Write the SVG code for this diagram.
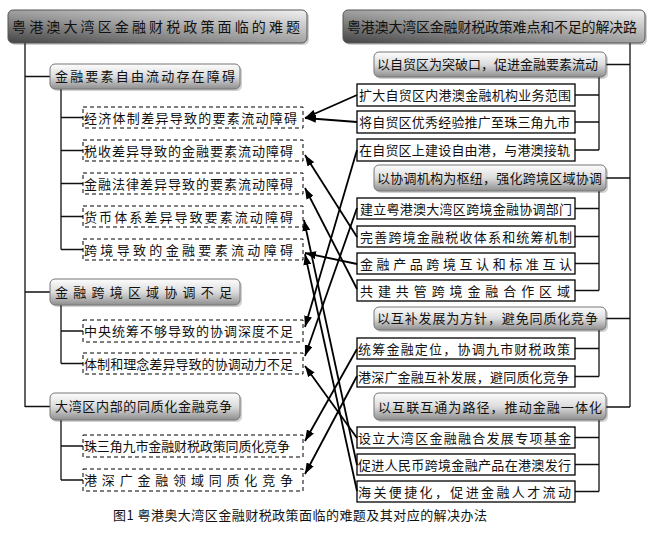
<svg xmlns="http://www.w3.org/2000/svg" width="652" height="534" viewBox="0 0 652 534">
<defs>
<linearGradient id="titleGrad" x1="0" y1="1" x2="1" y2="0">
<stop offset="0" stop-color="#444"/>
<stop offset="0.45" stop-color="#999"/>
<stop offset="1" stop-color="#f2f2f2"/>
</linearGradient>
<linearGradient id="catGrad" x1="0" y1="0" x2="0" y2="1">
<stop offset="0" stop-color="#fdfdfd"/>
<stop offset="0.5" stop-color="#dcdcdc"/>
<stop offset="1" stop-color="#8e8e8e"/>
</linearGradient>
<marker id="arr" markerUnits="userSpaceOnUse" markerWidth="11" markerHeight="8" refX="11" refY="4" orient="auto">
<path d="M0,0 L11,4 L0,8 z" fill="#000"/>
</marker>
</defs>
<style>
text{font-family:"Noto Sans CJK SC","Liberation Sans",sans-serif;fill:#111;}
.tt{font-size:14px;}
.ct{font-size:13px;}
.it{font-size:13px;}
.cap{font-size:13px;}
.title{fill:url(#titleGrad);stroke:#555;stroke-width:1;}
.cat{fill:url(#catGrad);stroke:#777;stroke-width:1;}
.shadow{fill:#000;opacity:0.18;}
.dash{fill:#fff;stroke:#000;stroke-width:1;stroke-dasharray:4,3;}
.solid{fill:#fff;stroke:#000;stroke-width:1.3;}
.tree{fill:none;stroke:#111;stroke-width:1.3;}
.arrow{fill:none;stroke:#000;stroke-width:1.8;marker-end:url(#arr);}
</style>
<rect width="652" height="534" fill="#fff"/>

<g id="tree-lines">
<path class="tree" d="M25,43 V407 M25,76.5 H50 M25,292 H50 M25,406.5 H50"/>
<path class="tree" d="M61,89 V249.5 M61,117.5 H83 M61,150.5 H83 M61,183.5 H83 M61,216.5 H83 M61,249.5 H83"/>
<path class="tree" d="M61,305 V363.5 M61,331 H83 M61,363.5 H83"/>
<path class="tree" d="M61,420 V480 M61,446 H83 M61,480 H83"/>
<path class="tree" d="M630,43 V407 M606,64.5 H630 M606,178 H630 M606,318.5 H630 M606,407 H630"/>
<path class="tree" d="M599,77 V150 M575,95 H599 M575,122 H599 M575,150 H599"/>
<path class="tree" d="M599,191 V290.5 M575,208.5 H599 M575,236.5 H599 M575,263.5 H599 M575,290.5 H599"/>
<path class="tree" d="M599,330 V376.5 M575,348.5 H599 M575,376.5 H599"/>
<path class="tree" d="M599,420 V491.5 M575,437.5 H599 M575,464.5 H599 M575,491.5 H599"/>
</g>

<g id="title-left">
<rect class="shadow" x="10" y="12" width="299" height="33" rx="5"/>
<rect class="title" x="8" y="10" width="299" height="33" rx="5"/>
<text class="tt" x="12" y="31.5" textLength="288" lengthAdjust="spacing">粤港澳大湾区金融财税政策面临的难题</text>
</g>
<g id="title-right">
<rect class="shadow" x="345" y="12" width="302" height="33" rx="5"/>
<rect class="title" x="343" y="10" width="302" height="33" rx="5"/>
<text class="tt" x="347" y="31.5" textLength="290" lengthAdjust="spacing">粤港澳大湾区金融财税政策难点和不足的解决路</text>
</g>

<g id="cat-l1">
<rect class="shadow" x="52" y="66" width="190" height="25" rx="5"/>
<rect class="cat" x="50" y="64" width="190" height="25" rx="5"/>
<text class="ct" x="55" y="81" textLength="180" lengthAdjust="spacing">金融要素自由流动存在障碍</text>
</g>
<g id="cat-l2">
<rect class="shadow" x="52" y="281" width="190" height="26" rx="5"/>
<rect class="cat" x="50" y="279" width="190" height="26" rx="5"/>
<text class="ct" x="55" y="296.5" textLength="177" lengthAdjust="spacing">金融跨境区域协调不足</text>
</g>
<g id="cat-l3">
<rect class="shadow" x="52" y="395" width="190" height="27" rx="5"/>
<rect class="cat" x="50" y="393" width="190" height="27" rx="5"/>
<text class="ct" x="55" y="411" textLength="177" lengthAdjust="spacing">大湾区内部的同质化金融竞争</text>
</g>

<g id="cat-r1">
<rect class="shadow" x="376" y="54" width="232" height="25" rx="5"/>
<rect class="cat" x="374" y="52" width="232" height="25" rx="5"/>
<text class="ct" x="377" y="69" textLength="221" lengthAdjust="spacing">以自贸区为突破口，促进金融要素流动</text>
</g>
<g id="cat-r2">
<rect class="shadow" x="376" y="167" width="232" height="26" rx="5"/>
<rect class="cat" x="374" y="165" width="232" height="26" rx="5"/>
<text class="ct" x="377" y="182.5" textLength="225" lengthAdjust="spacing">以协调机构为枢纽，强化跨境区域协调</text>
</g>
<g id="cat-r3">
<rect class="shadow" x="376" y="309" width="232" height="23" rx="5"/>
<rect class="cat" x="374" y="307" width="232" height="23" rx="5"/>
<text class="ct" x="377" y="323" textLength="221" lengthAdjust="spacing">以互补发展为方针，避免同质化竞争</text>
</g>
<g id="cat-r4">
<rect class="shadow" x="376" y="395" width="232" height="27" rx="5"/>
<rect class="cat" x="374" y="393" width="232" height="27" rx="5"/>
<text class="ct" x="378" y="411.5" textLength="224" lengthAdjust="spacing">以互联互通为路径，推动金融一体化</text>
</g>

<g id="l-item1"><rect class="dash" x="83" y="107" width="220" height="21"/><text class="it" x="84" y="122.5" textLength="213" lengthAdjust="spacing">经济体制差异导致的要素流动障碍</text></g>
<g id="l-item2"><rect class="dash" x="83" y="140" width="220" height="21"/><text class="it" x="84" y="155.5" textLength="209" lengthAdjust="spacing">税收差异导致的金融要素流动障碍</text></g>
<g id="l-item3"><rect class="dash" x="83" y="173" width="220" height="21"/><text class="it" x="84" y="188.5" textLength="209" lengthAdjust="spacing">金融法律差异导致的要素流动障碍</text></g>
<g id="l-item4"><rect class="dash" x="83" y="206" width="220" height="21"/><text class="it" x="84" y="221.5" textLength="209" lengthAdjust="spacing">货币体系差异导致要素流动障碍</text></g>
<g id="l-item5"><rect class="dash" x="83" y="239" width="220" height="21"/><text class="it" x="84" y="254.5" textLength="209" lengthAdjust="spacing">跨境导致的金融要素流动障碍</text></g>
<g id="l-item6"><rect class="dash" x="83" y="320" width="220" height="22"/><text class="it" x="84" y="336" textLength="209" lengthAdjust="spacing">中央统筹不够导致的协调深度不足</text></g>
<g id="l-item7"><rect class="dash" x="83" y="353" width="220" height="21"/><text class="it" x="84" y="368.5" textLength="209" lengthAdjust="spacing">体制和理念差异导致的协调动力不足</text></g>
<g id="l-item8"><rect class="dash" x="83" y="435" width="220" height="22"/><text class="it" x="84" y="451" textLength="206" lengthAdjust="spacing">珠三角九市金融财税政策同质化竞争</text></g>
<g id="l-item9"><rect class="dash" x="83" y="469" width="220" height="22"/><text class="it" x="84" y="485" textLength="209" lengthAdjust="spacing">港深广金融领域同质化竞争</text></g>

<g id="r-item1"><rect class="solid" x="357" y="84" width="218" height="22"/><text class="it" x="359" y="100" textLength="212" lengthAdjust="spacing">扩大自贸区内港澳金融机构业务范围</text></g>
<g id="r-item2"><rect class="solid" x="357" y="111" width="218" height="22"/><text class="it" x="359" y="127" textLength="211" lengthAdjust="spacing">将自贸区优秀经验推广至珠三角九市</text></g>
<g id="r-item3"><rect class="solid" x="357" y="139" width="218" height="22"/><text class="it" x="359" y="155" textLength="211" lengthAdjust="spacing">在自贸区上建设自由港，与港澳接轨</text></g>
<g id="r-item4"><rect class="solid" x="357" y="198" width="218" height="21"/><text class="it" x="360" y="213.5" textLength="212" lengthAdjust="spacing">建立粤港澳大湾区跨境金融协调部门</text></g>
<g id="r-item5"><rect class="solid" x="357" y="226" width="218" height="21"/><text class="it" x="360" y="241.5" textLength="212" lengthAdjust="spacing">完善跨境金融税收体系和统筹机制</text></g>
<g id="r-item6"><rect class="solid" x="357" y="253" width="218" height="21"/><text class="it" x="360" y="268.5" textLength="212" lengthAdjust="spacing">金融产品跨境互认和标准互认</text></g>
<g id="r-item7"><rect class="solid" x="357" y="280" width="218" height="21"/><text class="it" x="360" y="295.5" textLength="210" lengthAdjust="spacing">共建共管跨境金融合作区域</text></g>
<g id="r-item8"><rect class="solid" x="357" y="338" width="218" height="21"/><text class="it" x="358" y="353.5" textLength="212" lengthAdjust="spacing">统筹金融定位，协调九市财税政策</text></g>
<g id="r-item9"><rect class="solid" x="357" y="366" width="218" height="21"/><text class="it" x="358" y="381.5" textLength="211" lengthAdjust="spacing">港深广金融互补发展，避同质化竞争</text></g>
<g id="r-item10"><rect class="solid" x="357" y="427" width="218" height="21"/><text class="it" x="358" y="442.5" textLength="213" lengthAdjust="spacing">设立大湾区金融融合发展专项基金</text></g>
<g id="r-item11"><rect class="solid" x="357" y="454" width="218" height="21"/><text class="it" x="358" y="469.5" textLength="213" lengthAdjust="spacing">促进人民币跨境金融产品在港澳发行</text></g>
<g id="r-item12"><rect class="solid" x="357" y="481" width="218" height="21"/><text class="it" x="358" y="496.5" textLength="213" lengthAdjust="spacing">海关便捷化，促进金融人才流动</text></g>

<g id="connectors">
<line class="arrow" x1="357" y1="95" x2="305" y2="118"/>
<line class="arrow" x1="357" y1="122" x2="305" y2="118"/>
<line class="arrow" x1="357" y1="150" x2="305" y2="327"/>
<line class="arrow" x1="357" y1="208" x2="305" y2="356"/>
<line class="arrow" x1="357" y1="237" x2="305" y2="155"/>
<line class="arrow" x1="357" y1="264" x2="305" y2="253"/>
<line class="arrow" x1="357" y1="289" x2="305" y2="188"/>
<line class="arrow" x1="357" y1="349" x2="305" y2="441"/>
<line class="arrow" x1="357" y1="376" x2="305" y2="474"/>
<line class="arrow" x1="357" y1="438" x2="305" y2="366"/>
<line class="arrow" x1="357" y1="465" x2="304" y2="220"/>
<line class="arrow" x1="357" y1="491" x2="305" y2="254"/>
</g>

<text class="cap" x="113" y="520" textLength="374" lengthAdjust="spacing">图1 粤港奥大湾区金融财税政策面临的难题及其对应的解决办法</text>
</svg>
